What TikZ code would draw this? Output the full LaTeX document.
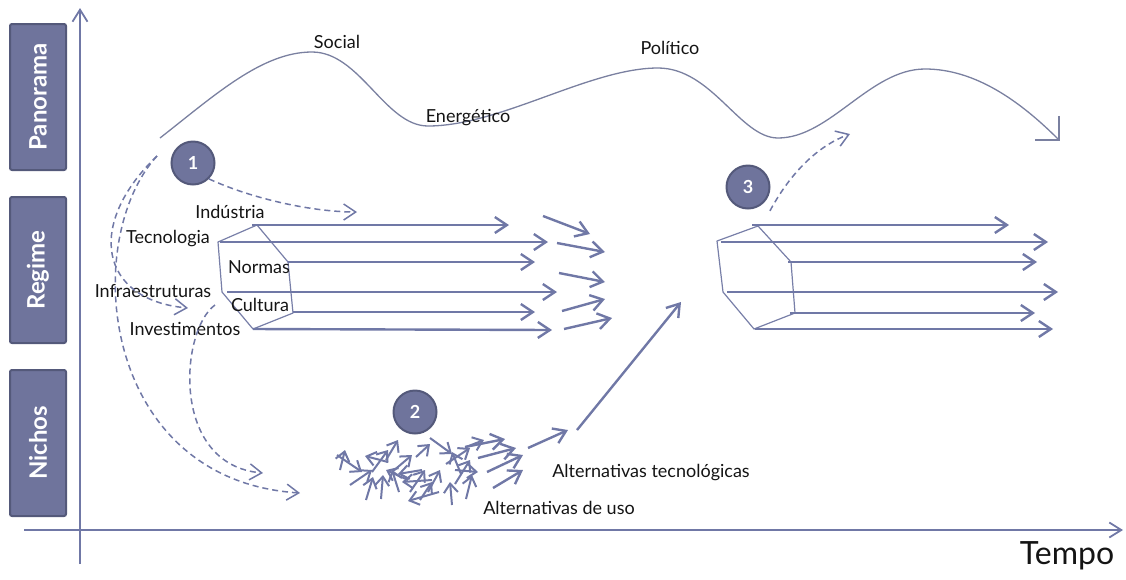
\documentclass[tikz,border=0pt]{standalone}
\usepackage{fontspec}
\setmainfont{Lato}
\usetikzlibrary{arrows.meta}
\definecolor{lc}{RGB}{112,120,166}
\definecolor{wavec}{RGB}{122,128,160}
\definecolor{hexc}{RGB}{120,127,168}
\definecolor{boxfill}{RGB}{111,116,156}
\definecolor{boxline}{RGB}{84,89,122}
\definecolor{txt}{RGB}{20,20,20}

\begin{document}
\begin{tikzpicture}[x=1pt,y=-1pt,
  barb/.tip={Straight Barb[length=12pt,width=16pt]},
  smallbarb/.tip={Straight Barb[length=9pt,width=14pt]},
  axisline/.style={draw=lc,line width=1.8pt},
  flowarrow/.style={draw=lc,line width=2.4pt,-barb},
  bitarrow/.style={draw=lc,line width=2pt,-smallbarb},
  dasharrow/.style={draw=lc,line width=1.5pt,dash pattern=on 6pt off 4pt,-barb},
  hexedge/.style={draw=hexc,line width=1.2pt,line join=round},
  wave/.style={draw=wavec,line width=1.3pt},
  sidebox/.style={fill=boxfill,draw=boxline,line width=2pt,rounded corners=2pt,
    minimum width=146pt,minimum height=56pt,rotate=90,text=white,
    font=\fontsize{24}{28}\selectfont\bfseries},
  badge/.style={circle,fill=boxfill,draw=boxline,line width=2pt,minimum size=43pt,
    inner sep=0pt,text=white,font=\fontsize{18}{20}\selectfont\bfseries},
  lbl/.style={text=txt,inner sep=0pt,font=\fontsize{18}{21}\selectfont}
]
\useasboundingbox (0,0) rectangle (1126,579);

% level boxes
\node[sidebox] (pan) at (38,97) {Panorama};
\node[sidebox] (reg) at (38,270) {Regime};
\node[sidebox] (nic) at (38,443) {Nichos};

% axes
\coordinate (ytop) at (80,8);
\coordinate (ybot) at (80,564);
\coordinate (xleft) at (24,530);
\coordinate (xright) at (1123,530);
\draw[axisline,-{Straight Barb[length=12pt,width=15pt]}] (ybot) -- (ytop);
\draw[axisline,-{Straight Barb[length=12pt,width=15pt]}] (xleft) -- (xright);
\node[lbl,font=\fontsize{32}{36}\selectfont] (tempo) at (1067,556) {Tempo};

% landscape wave
\draw[wave,-{Straight Barb[length=17pt,width=34pt,line width=2pt]}]
  (160,138) .. controls (215,95) and (262,52) .. (312,52)
  .. controls (360,52) and (385,126) .. (428,126)
  .. controls (500,126) and (590,68) .. (658,68)
  .. controls (712,68) and (740,138) .. (778,138)
  .. controls (830,138) and (870,69) .. (925,69)
  .. controls (975,69) and (1020,101) .. (1060,141);
\node[lbl] (social) at (337,42) {Social};
\node[lbl] (energ) at (468,118) {Energético};
\node[lbl] (polit) at (670,48) {Político};

% badges
\node[badge] (c1) at (193,163) {1};
\node[badge] (c2) at (415,412) {2};
\node[badge] (c3) at (748,187) {3};

% regime prism (left)
\draw[hexedge] (257,225) -- (218,242) -- (222,292) -- (253,329) -- (293,313) -- (288,262) -- cycle;
\draw[flowarrow] (252,225) -- (509,225);
\draw[flowarrow] (220,242) -- (548,242);
\draw[flowarrow] (288,262) -- (535,262);
\draw[flowarrow] (227,292) -- (557,292);
\draw[flowarrow] (293,312) -- (535,312);
\draw[flowarrow] (253,329) -- (552,330);

\node[lbl] (ind) at (230,212) {Indústria};
\node[lbl] (tec) at (168,239) {Tecnologia};
\node[lbl] (nor) at (259,267) {Normas};
\node[lbl] (inf) at (153,291) {Infraestruturas};
\node[lbl] (cul) at (260,305) {Cultura};
\node[lbl] (inv) at (185,329) {Investimentos};

% diverging short arrows
\draw[flowarrow] (543,216) -- (590,234);
\draw[flowarrow] (557,243) -- (605,252);
\draw[flowarrow] (559,273) -- (605,282);
\draw[flowarrow] (562,311) -- (605,299);
\draw[flowarrow] (564,329) -- (612,318);

% regime prism (right)
\draw[hexedge] (758,226) -- (717,241) -- (723,292) -- (754,329) -- (795,313) -- (791,262) -- cycle;
\draw[flowarrow] (752,225) -- (1009,225);
\draw[flowarrow] (721,242) -- (1048,242);
\draw[flowarrow] (788,262) -- (1037,262);
\draw[flowarrow] (727,292) -- (1058,292);
\draw[flowarrow] (790,313) -- (1035,313);
\draw[flowarrow] (755,329) -- (1053,329);

% dashed influence paths
\coordinate (d1) at (357,212);
\coordinate (ws) at (157,156);
\coordinate (dinf) at (188,308);
\coordinate (dn1) at (300,493);
\coordinate (dc) at (215,305);
\coordinate (dn2) at (263,473);
\coordinate (d3) at (850,134);
\draw[dasharrow] (c1.south east) .. controls (255,200) and (315,212) .. (d1);
\draw[dasharrow] (ws) .. controls (85,225) and (100,300) .. (dinf);
\draw[dasharrow] (ws) .. controls (80,240) and (100,480) .. (dn1);
\draw[dasharrow] (dc) .. controls (180,330) and (170,465) .. (dn2);
\draw[dasharrow] (c3.south east) ++(6,8) .. controls (792,170) and (820,145) .. (d3);

% niche experiments
\foreach \xa/\ya/\xb/\yb in {
  340/470/345/450, 337/455/362/472, 388/462/365/456, 372/472/388/450,
  386/460/398/440, 392/472/412/455, 366/500/373/477, 381/499/383/475,
  399/492/392/470, 422/470/398/474, 432/480/402/482, 439/492/408/501,
  410/492/425/470, 428/492/440/470, 430/438/452/454, 446/464/470/448,
  461/474/452/452, 455/484/470/460, 452/505/450/482, 466/499/472/475,
  455/470/478/472, 466/447/484/440, 408/480/386/470, 416/457/430/444,
  350/485/372/470, 420/500/432/482}
  \draw[bitarrow] (\xa,\ya) -- (\xb,\yb);
\draw[flowarrow] (465,447) -- (505,439);
\draw[flowarrow] (478,458) -- (516,448);
\draw[flowarrow] (487,472) -- (523,455);
\draw[flowarrow] (493,488) -- (523,470);
\draw[flowarrow] (528,448) -- (568,430);
\coordinate (up0) at (577,430);
\coordinate (up1) at (681,302);
\draw[flowarrow] (up0) -- (up1);

\node[lbl] (alt1) at (651,473) {Alternativas tecnológicas};
\node[lbl] (alt2) at (559,508) {Alternativas de uso};
\end{tikzpicture}
\end{document}
